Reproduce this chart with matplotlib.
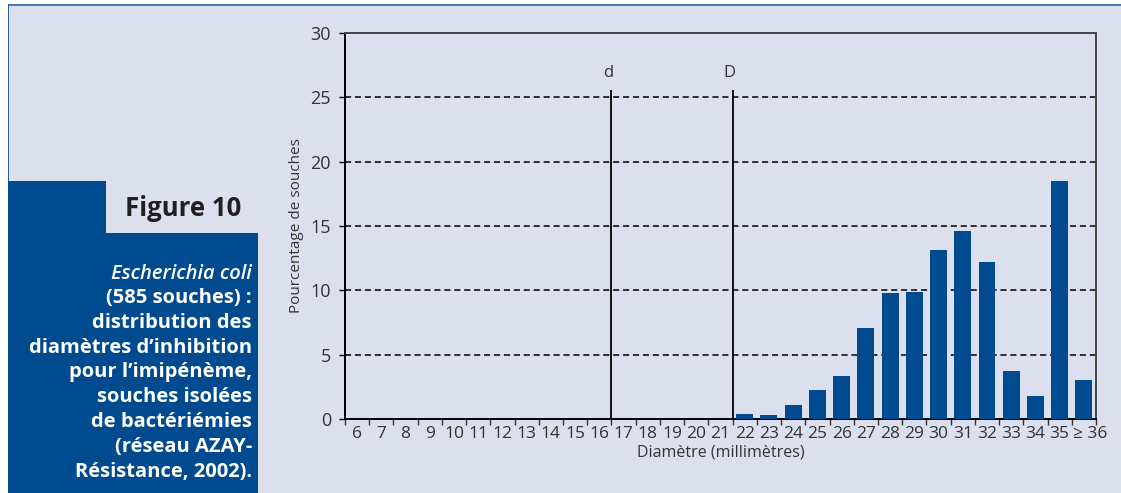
import numpy as np
import matplotlib.pyplot as plt
from matplotlib.patches import Rectangle
from matplotlib.ticker import FixedLocator, NullFormatter
from matplotlib.transforms import ScaledTranslation

# categories (diameters, mm)
categories = [str(v) for v in range(6, 36)] + ['≥ 36']
# percentage of strains per diameter
percent = [0, 0, 0, 0, 0, 0, 0, 0, 0, 0, 0, 0, 0, 0, 0, 0,
           0.39, 0.31, 1.09, 2.25, 3.33, 7.05, 9.77, 9.85, 13.1,
           14.65, 12.17, 3.72, 1.78, 18.53, 3.02]
yticks = [0, 5, 10, 15, 20, 25, 30]
breakpoints = {'d': '16', 'D': '22'}

caption = ['(585 souches) :', 'distribution des', 'diamètres d’inhibition',
           'pour l’imipénème,', 'souches isolées', 'de bactériémies',
           '(réseau AZAY-', 'Résistance, 2002).']

bg = '#dcdfee'
blue = '#004a8f'
W, H = 1121, 493

fig = plt.figure(figsize=(W / 100, H / 100), dpi=100)
fig.patch.set_facecolor('white')

# frame + left panel, in pixel coords turned to figure fractions
def px(x, y, w, h):
    return (x / W, 1 - (y + h) / H, w / W, h / H)

def rect(x, y, w, h, **kw):
    l, b, ww, hh = px(x, y, w, h)
    fig.add_artist(Rectangle((l, b), ww, hh, transform=fig.transFigure,
                             zorder=-5, **kw))

rect(8, 4, W - 8, H - 4, facecolor=bg, edgecolor='none')
rect(8, 4, W - 8, 1.5, facecolor='#4a7cc0', edgecolor='none')
rect(7.5, 4, 1.5, H - 4, facecolor='#1f5fb0', edgecolor='none')
rect(8, 181, 250, H - 181, facecolor=blue, edgecolor='none')
rect(106, 181, 152, 52, facecolor=bg, edgecolor='none')

cap_font = ['Open Sans', 'DejaVu Sans']
fig.text(241 / W, 1 - 208 / H, 'Figure 10', ha='right', va='center',
         fontsize=18.5, fontweight='bold', color='#231f20', family=cap_font)
fig.text(252 / W, 1 - 274 / H, 'Escherichia coli', ha='right', va='center',
         fontsize=14.5, fontstyle='italic', fontweight='semibold',
         color='white', family=cap_font)
for i, line in enumerate(caption):
    fig.text(252 / W, 1 - (298 + i * 24.8) / H, line, ha='right', va='center',
             fontsize=14.5, fontweight='bold', color='white', family=cap_font)

# chart
ax = fig.add_axes(px(345, 33, 751, 386))
ax.set_facecolor(bg)
x = np.arange(len(categories))
ax.bar(x, percent, width=0.7, color=blue, zorder=3)
ax.set_xlim(-0.5, len(categories) - 0.5)
ax.set_ylim(0, 30)

for yv in yticks[1:-1]:
    ax.axhline(yv, color='black', lw=1.1, ls=(0, (4, 2.5)), zorder=2)

for lab, cat in breakpoints.items():
    xb = categories.index(cat) - 0.5 if lab == 'D' else categories.index(cat) + 0.5
    ax.vlines(xb, 0, 25.6, color='black', lw=1.3, zorder=4)
    ax.text(xb - 0.15, 26.9, lab, ha='center', va='center', fontsize=12,
            color='#333333', family='Open Sans')

ax.xaxis.set_major_locator(FixedLocator(np.arange(-0.5, len(categories), 1)))
ax.xaxis.set_major_formatter(NullFormatter())
ax.xaxis.set_minor_locator(FixedLocator(x))
ax.set_xticklabels(categories, minor=True)
ax.tick_params(axis='x', which='major', length=4, width=1, direction='out', color='#333333')
ax.tick_params(axis='x', which='minor', length=0, pad=5, labelsize=12.5,
               labelcolor='#333333')
ax.set_yticks(yticks)
ax.tick_params(axis='y', length=4, width=1, pad=6, labelsize=13, labelcolor='#333333')
for lab in ax.get_xticklabels(minor=True) + ax.get_yticklabels():
    lab.set_family('Open Sans')
last = ax.get_xticklabels(minor=True)[-1]
last.set_transform(last.get_transform() + ScaledTranslation(6 / 100, 0, fig.dpi_scale_trans))

ax.set_ylabel('Pourcentage de souches', fontsize=11, color='#333333',
              family='Open Sans', labelpad=5)
ax.set_xlabel('Diamètre (millimètres)', fontsize=11.5, color='#333333',
              family='Open Sans', labelpad=2)

for s in ['left', 'bottom']:
    ax.spines[s].set_color('black')
    ax.spines[s].set_linewidth(1.4)
for s in ['top', 'right']:
    ax.spines[s].set_color('#444444')
    ax.spines[s].set_linewidth(1.4)

fig.savefig('out.png', dpi=100, facecolor=fig.get_facecolor())
